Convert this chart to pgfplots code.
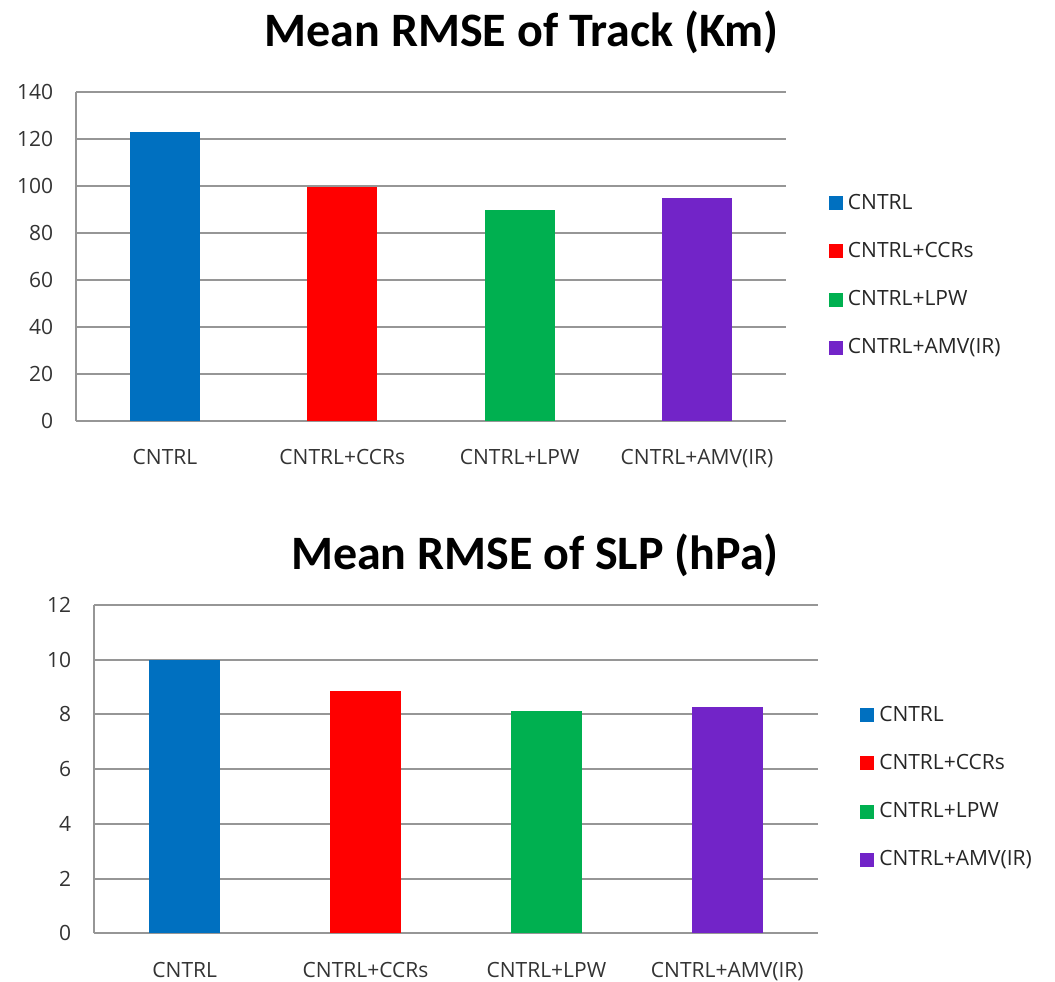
\documentclass[border=0pt]{standalone}
\usepackage{pgfplots}
\pgfplotsset{compat=1.18}
\usepackage{fontspec}
\setmainfont{Open Sans}
\newfontfamily\titlefont{Carlito}
\definecolor{cblue}{RGB}{0,112,192}
\definecolor{cred}{RGB}{255,0,0}
\definecolor{cgreen}{RGB}{0,176,80}
\definecolor{cpurple}{RGB}{114,36,200}
\definecolor{gridgray}{RGB}{150,150,150}
\pgfplotsset{
  mybars/.style={
    scale only axis,
    ybar, bar width=0.395, bar shift=0pt,
    xmin=-0.5, xmax=3.5, ymin=0,
    xtick={0,1,2,3},
    xticklabels={CNTRL,CNTRL+CCRs,CNTRL+LPW,CNTRL+AMV(IR)},
    axis x line*=bottom, axis y line*=left,
    axis line style={gridgray, line width=1pt},
    ymajorgrids, grid style={gridgray, line width=1pt},
    major tick length=0pt,
    /pgf/number format/assume math mode=true,
    tick label style={font=\fontsize{10.5}{12}\selectfont, text=black!80},
    yticklabel style={xshift=-8pt},
    xticklabel style={yshift=-11pt},
    title style={font=\titlefont\bfseries\fontsize{24}{28}\selectfont, anchor=center},
    legend style={draw=none, fill=none, anchor=west, font=\fontsize{10.5}{12}\selectfont,
      nodes={text height=8pt, text depth=2pt, inner ysep=1.5pt, inner xsep=2.5pt}, row sep=11.1pt, text=black!85},
    legend cell align=left,
    legend image code/.code={\fill[##1, draw=none] (0pt,-3.5pt) rectangle (7pt,3.5pt);},
  }
}
\begin{document}
\begin{tikzpicture}
\useasboundingbox (0pt,0pt) rectangle (527.5pt,490.5pt);
% top chart
\begin{axis}[mybars,
  at={(38.15pt,280.15pt)}, anchor=south west,
  width=354.7pt, height=164.2pt,
  ymax=140, ytick={0,20,...,140},
  title={Mean RMSE of Track (Km)},
  title style={at={(0.628,1.147)}},
  legend style={at={(1.052,0.442)}},
]
\addplot[fill=cblue, draw=none] coordinates {(0,123)};
\addplot[fill=cred, draw=none] coordinates {(1,99.7)};
\addplot[fill=cgreen, draw=none] coordinates {(2,89.8)};
\addplot[fill=cpurple, draw=none] coordinates {(3,95)};
\legend{CNTRL,CNTRL+CCRs,CNTRL+LPW,CNTRL+AMV(IR)}
\end{axis}
% bottom chart
\begin{axis}[mybars,
  at={(47.15pt,23.85pt)}, anchor=south west,
  width=361.7pt, height=164.15pt,
  ymax=12, ytick={0,2,...,12},
  title={Mean RMSE of SLP (hPa)},
  title style={at={(0.609,1.116)}},
  legend style={at={(1.050,0.444)}},
]
\addplot[fill=cblue, draw=none] coordinates {(0,10)};
\addplot[fill=cred, draw=none] coordinates {(1,8.87)};
\addplot[fill=cgreen, draw=none] coordinates {(2,8.14)};
\addplot[fill=cpurple, draw=none] coordinates {(3,8.28)};
\legend{CNTRL,CNTRL+CCRs,CNTRL+LPW,CNTRL+AMV(IR)}
\end{axis}
\end{tikzpicture}
\end{document}
